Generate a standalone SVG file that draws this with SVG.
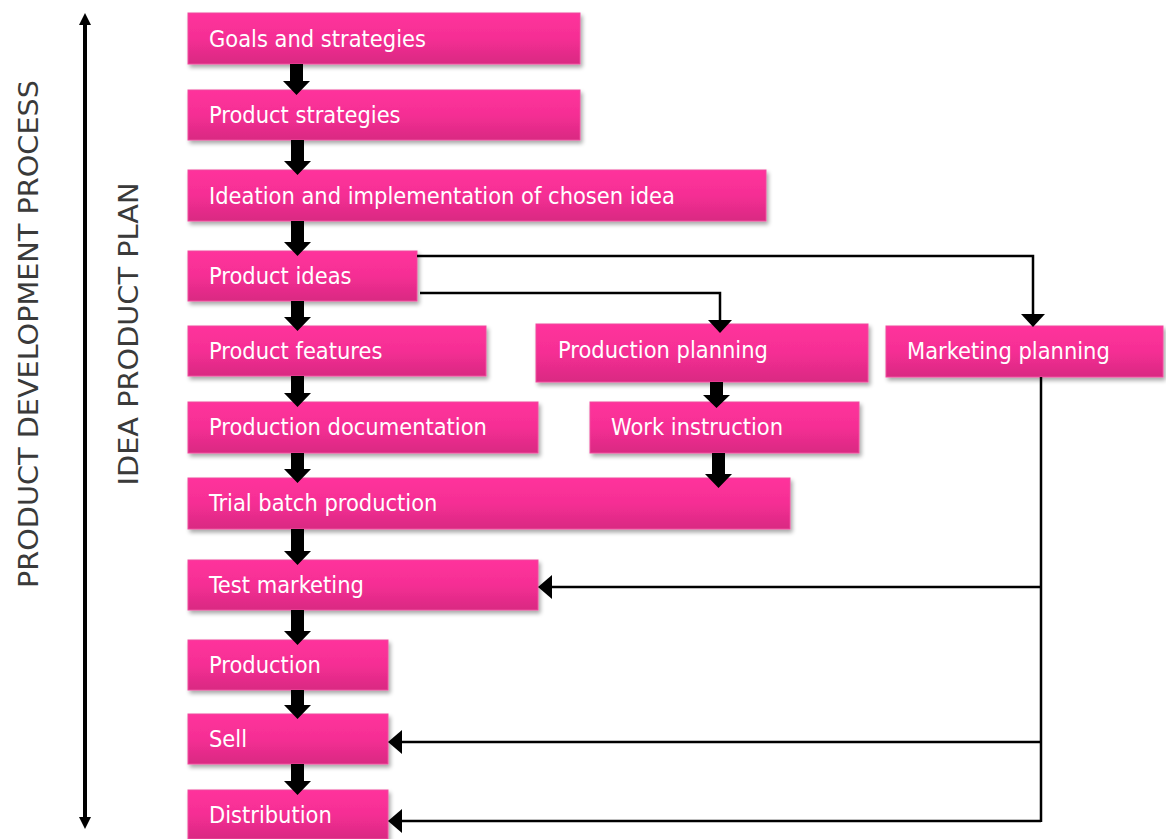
<svg xmlns="http://www.w3.org/2000/svg" width="1166" height="839" viewBox="0 0 1166 839">
<defs>
<linearGradient id="pk" x1="0" y1="0" x2="0" y2="1">
<stop offset="0" stop-color="#FF339C"/>
<stop offset="0.5" stop-color="#F52E94"/>
<stop offset="1" stop-color="#D92A82"/>
</linearGradient>
<filter id="sh" x="-5%" y="-10%" width="112%" height="135%">
<feGaussianBlur in="SourceAlpha" stdDeviation="2"/>
<feOffset dx="2" dy="3" result="b"/>
<feComponentTransfer><feFuncA type="linear" slope="0.35"/></feComponentTransfer>
<feMerge><feMergeNode/><feMergeNode in="SourceGraphic"/></feMerge>
</filter>
</defs>
<style>
.box{fill:url(#pk);stroke:#F04A9E;stroke-width:1;filter:url(#sh)}
.t{font-family:"DejaVu Sans Condensed","DejaVu Sans",sans-serif;font-size:23.4px;fill:#fff}
.side{font-family:"DejaVu Sans Condensed","DejaVu Sans",sans-serif;font-size:27px;fill:#3a3a3a}
.ln{fill:none;stroke:#000;stroke-width:2.5}
.bk{fill:#000}
</style>

<g id="labels">
<text class="side" transform="translate(38,334) rotate(-90)" text-anchor="middle" textLength="508" lengthAdjust="spacingAndGlyphs">PRODUCT DEVELOPMENT PROCESS</text>
<text class="side" transform="translate(138,334) rotate(-90)" text-anchor="middle" textLength="303" lengthAdjust="spacingAndGlyphs">IDEA PRODUCT PLAN</text>
</g>

<g id="n1"><rect class="box" x="188" y="13" width="392" height="51"/><text class="t" x="209" y="47">Goals and strategies</text></g>
<g id="n2"><rect class="box" x="188" y="90" width="392" height="50"/><text class="t" x="209" y="123">Product strategies</text></g>
<g id="n3"><rect class="box" x="188" y="170" width="578" height="51"/><text class="t" x="209" y="204">Ideation and implementation of chosen idea</text></g>
<g id="n4"><rect class="box" x="188" y="251" width="229" height="50"/><text class="t" x="209" y="284">Product ideas</text></g>
<g id="n5"><rect class="box" x="188" y="326" width="298" height="50"/><text class="t" x="209" y="359">Product features</text></g>
<g id="n6"><rect class="box" x="536" y="324" width="332" height="58"/><text class="t" x="558" y="358">Production planning</text></g>
<g id="n7"><rect class="box" x="886" y="326" width="277" height="51"/><text class="t" x="907" y="359">Marketing planning</text></g>
<g id="n8"><rect class="box" x="188" y="402" width="350" height="51"/><text class="t" x="209" y="435">Production documentation</text></g>
<g id="n9"><rect class="box" x="590" y="402" width="269" height="51"/><text class="t" x="611" y="435">Work instruction</text></g>
<g id="n10"><rect class="box" x="188" y="478" width="602" height="51"/><text class="t" x="209" y="511">Trial batch production</text></g>
<g id="n11"><rect class="box" x="188" y="560" width="350" height="50"/><text class="t" x="209" y="593">Test marketing</text></g>
<g id="n12"><rect class="box" x="188" y="640" width="200" height="50"/><text class="t" x="209" y="673">Production</text></g>
<g id="n13"><rect class="box" x="188" y="714" width="200" height="50"/><text class="t" x="209" y="747">Sell</text></g>
<g id="n14"><rect class="box" x="188" y="790" width="200" height="49"/><text class="t" x="209" y="823">Distribution</text></g>

<g id="connectors">
<line x1="85" y1="24" x2="85" y2="818" stroke="#000" stroke-width="4"/>
<path d="M85,13 L91,25 L79,25 Z" class="bk"/>
<path d="M85,829 L91,817 L79,817 Z" class="bk"/>
<path class="bk" d="M290,64 H303 V81 H310 L296.5,95 L283,81 H290 Z"/>
<path class="bk" d="M291,140 H304 V161 H311 L297.5,175 L284,161 H291 Z"/>
<path class="bk" d="M291,221 H304 V242 H311 L297.5,256 L284,242 H291 Z"/>
<path class="bk" d="M291,301 H304 V317 H311 L297.5,331 L284,317 H291 Z"/>
<path class="bk" d="M291,376 H304 V393 H311 L297.5,407 L284,393 H291 Z"/>
<path class="bk" d="M291,453 H304 V469 H311 L297.5,483 L284,469 H291 Z"/>
<path class="bk" d="M291,529 H304 V551 H311 L297.5,565 L284,551 H291 Z"/>
<path class="bk" d="M291,610 H304 V631 H311 L297.5,645 L284,631 H291 Z"/>
<path class="bk" d="M291,690 H304 V705 H311 L297.5,719 L284,705 H291 Z"/>
<path class="bk" d="M291,764 H304 V781 H311 L297.5,795 L284,781 H291 Z"/>
<path class="bk" d="M710,382 H723 V395 H730 L716.5,408 L703,395 H710 Z"/>
<path class="bk" d="M712,453 H725 V474 H732 L718.5,488 L705,474 H712 Z"/>
<path class="ln" d="M417,256 H1033 V314"/>
<path d="M1021,314 L1045,314 L1033,327 Z" class="bk"/>
<path class="ln" d="M420,293 H720 V320"/>
<path d="M708,320 L732,320 L720,333 Z" class="bk"/>
<path class="ln" d="M1041,377 V822"/>
<path class="ln" d="M1041,587 H551"/>
<path d="M552,575 L552,599 L538,587 Z" class="bk"/>
<path class="ln" d="M1041,742 H401"/>
<path d="M402,730 L402,754 L388,742 Z" class="bk"/>
<path class="ln" d="M1041,821 H401"/>
<path d="M402,809 L402,833 L388,821 Z" class="bk"/>
</g>
</svg>
